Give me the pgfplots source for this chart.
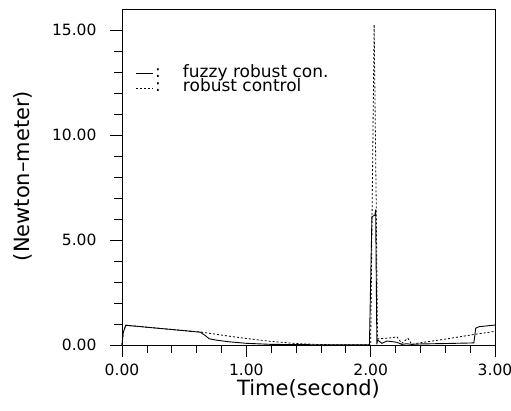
\documentclass[border=0pt]{standalone}
\usepackage{fontspec}
\setmainfont{DejaVu Sans}
\usepackage{pgfplots}
\pgfplotsset{compat=1.18}
\begin{document}
\begin{tikzpicture}
\begin{axis}[
  scale only axis, width=373pt, height=336pt,
  xmin=0, xmax=3, ymin=0, ymax=16,
  clip=false,
  xtick={0,1,2,3}, ytick={0,5,10,15},
  minor x tick num=4, minor y tick num=4,
  xtick pos=left, ytick pos=left,
  tick align=outside,
  major tick length=12pt, minor tick length=8pt,
  every tick/.style={black, line width=0.7pt},
  axis line style={line width=0.7pt},
  /pgf/number format/assume math mode=true,
  /pgf/number format/.cd, fixed, fixed zerofill, precision=2,
  /pgfplots/.cd,
  tick label style={font=\fontsize{15.5}{19}\selectfont},
  xticklabel style={yshift=-3pt},
  yticklabel style={xshift=-10pt},
  xlabel={Time(second)},
  ylabel={(Newton--meter)},
  label style={font=\fontsize{21}{24}\selectfont},
  xlabel style={at={(axis description cs:0.5,-0.13)}, anchor=center},
  ylabel style={at={(axis description cs:-0.265,0.503)}, anchor=center},
  legend style={at={(axis description cs:0.035,0.83)}, anchor=north west,
    draw=none, fill=none, inner sep=0pt, row sep=0pt,
    nodes={text height=11pt, text depth=3.5pt, inner ysep=0pt},
    font=\fontsize{17}{17}\selectfont, legend cell align=left},
  legend image code/.code={\draw[#1] (0pt,0pt) -- (17pt,0pt);},
]
\addplot[black, line width=0.9pt] coordinates {
(0,0) (0.01,0.6) (0.03,0.94) (0.63,0.61) (0.67,0.45) (0.70,0.30) (0.75,0.24)
(0.85,0.16) (1.0,0.08) (1.2,0.03) (1.4,0.02) (1.6,0.01) (1.8,0.01) (1.99,0.01)
(2.01,6.1) (2.035,6.2) (2.04,6.45) (2.05,0.03) (2.055,0.24)
(2.09,0.08) (2.13,0.19) (2.17,0.16) (2.21,0.13) (2.25,0.03) (2.29,0.06)
(2.33,0.03) (2.4,0.05) (2.6,0.07) (2.83,0.1) (2.845,0.8) (2.87,0.87) (3.0,0.95)
};
\addlegendentry{:\hspace{1.3em}fuzzy robust con.}
\addplot[black, line width=0.8pt, dash pattern=on 2pt off 2pt] coordinates {
(0,0) (0.01,0.6) (0.03,0.94) (0.63,0.62) (0.7,0.56) (0.85,0.43) (1.0,0.31)
(1.2,0.17) (1.4,0.07) (1.6,0.02) (1.8,0.01) (2.0,0.01)
(2.028,15.25) (2.045,6.5) (2.055,0.3) (2.06,0.29) (2.12,0.32) (2.18,0.35)
(2.21,0.4) (2.25,0.08) (2.30,0.32) (2.33,0.03) (2.37,0.08) (2.6,0.28)
(2.83,0.5) (3.0,0.65)
};
\addlegendentry{:\hspace{1.3em}robust control}
\end{axis}
\pgfresetboundingbox
\path (current axis.south west) ++(-122pt,-65pt) rectangle ++(511pt,410pt);
\end{tikzpicture}
\end{document}
